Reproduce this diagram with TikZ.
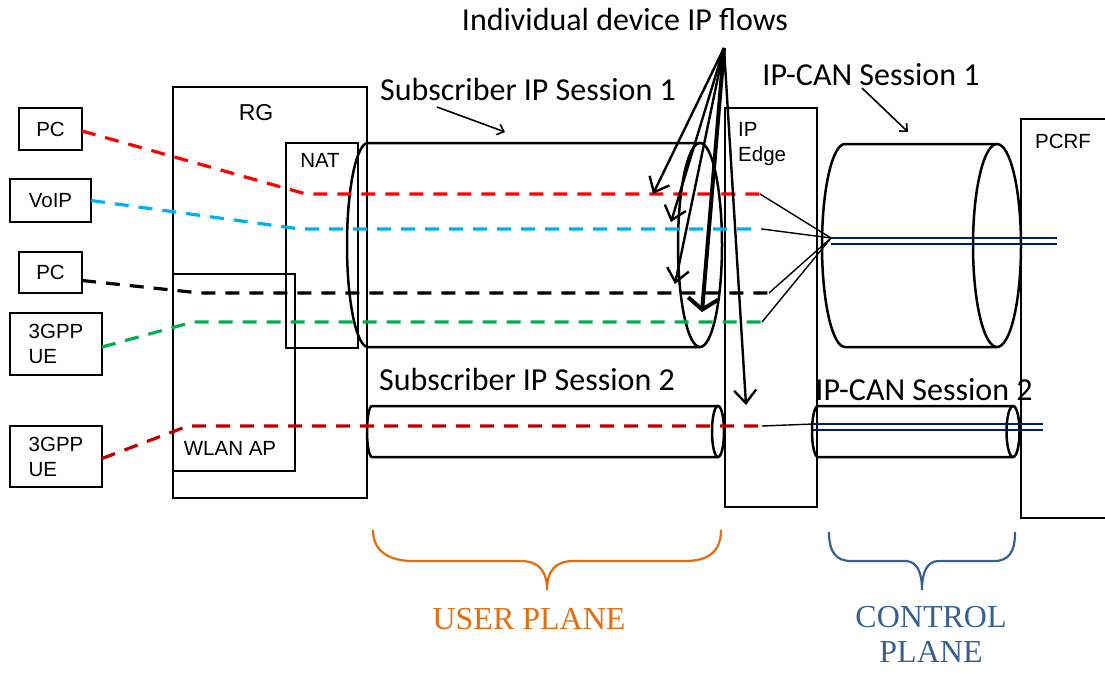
\documentclass[tikz,border=0pt]{standalone}
\usepackage{fontspec}
\setmainfont{Liberation Sans}
\newfontfamily\calfont{Carlito}
\newfontfamily\serfont{Liberation Serif}
\usetikzlibrary{arrows.meta}
\definecolor{flowred}{RGB}{255,0,0}
\definecolor{flowblue}{RGB}{0,176,240}
\definecolor{flowgreen}{RGB}{0,176,80}
\definecolor{flowdred}{RGB}{192,0,0}
\definecolor{navyline}{RGB}{0,32,96}
\definecolor{upor}{RGB}{228,108,10}
\definecolor{cpblue}{RGB}{55,96,146}
\begin{document}
\begin{tikzpicture}[x=1pt,y=-1pt,
  box/.style={draw, line width=2.5pt, inner sep=0pt, outer sep=0pt, anchor=north west, font=\fontsize{20.5}{25}\selectfont},
  lbl/.style={inner sep=0pt, font=\fontsize{20.5}{25}\selectfont},
  big/.style={inner sep=0pt, font=\calfont\fontsize{32}{36}\selectfont},
  plane/.style={inner sep=0pt, align=center, font=\serfont\fontsize{32}{35}\selectfont},
  cyl/.style={line width=2.5pt},
  flow/.style={line width=3.2pt, dash pattern=on 14pt off 10pt},
  thinlink/.style={line width=1.4pt},
  navy/.style={navyline, line width=2.6pt},
  barb/.style={line width=2.4pt, -{Straight Barb[length=13pt,width=22pt]}},
  thickbarb/.style={line width=4pt, -{Straight Barb[length=11pt,width=30pt]}},
  callout/.style={line width=1.6pt, -{Straight Barb[length=6pt,width=11pt]}},
  bracestyle/.style={line width=2.2pt}
]
\useasboundingbox (0,0) rectangle (1105,672);

% containers
\node[box, minimum width=194pt, minimum height=411pt] (rg) at (173,87) {};
\node[lbl] (rglbl) at (256,113) {\fontsize{23}{26}\selectfont RG};
\node[box, minimum width=72pt, minimum height=205pt] (nat) at (286,143) {};
\node[lbl] (natlbl) at (320,160) {NAT};
\node[box, minimum width=122pt, minimum height=197pt] (wlan) at (173,274) {};
\node[lbl] (wlanlbl) at (230,448) {WLAN AP};
\node[box, minimum width=92pt, minimum height=399pt] (edge) at (725,108) {};
\node[lbl, anchor=west, align=left] (edgelbl) at (738,144) {IP\\Edge};
\draw[line width=2.5pt] (1108,119) -- (1021,119) -- (1021,518) -- (1108,518);
\node[lbl] (pcrflbl) at (1063,141) {PCRF};

% devices
\node[box, minimum width=63pt, minimum height=42pt] (pc1) at (19,108) {PC};
\node[box, minimum width=81pt, minimum height=43pt] (voip) at (10,179) {VoIP};
\node[box, minimum width=63pt, minimum height=41pt] (pc2) at (19,252) {PC};
\node[box, minimum width=92pt, minimum height=62pt, align=left] (ue1) at (10,313) {3GPP\\UE};
\node[box, minimum width=92pt, minimum height=61pt, align=left] (ue2) at (10,426) {3GPP\\UE};

% subscriber IP session 1
\draw[cyl] (700,143) -- (368,143) arc[start angle=-90,end angle=-270,x radius=21,y radius=102] -- (700,347);
\draw[cyl] (700,245) ellipse[x radius=22,y radius=102];
% subscriber IP session 2
\draw[cyl] (718,406) -- (372,406) arc[start angle=-90,end angle=-270,x radius=5,y radius=25.5] -- (718,457);
\draw[cyl] (718,431.5) ellipse[x radius=6,y radius=25.5];
% IP-CAN session 1
\draw[cyl] (997,144) -- (845,144) arc[start angle=-90,end angle=-270,x radius=23,y radius=101.5] -- (997,347);
\draw[cyl] (997,245.5) ellipse[x radius=24,y radius=101.5];
% IP-CAN session 2
\draw[cyl] (1013,406) -- (818,406) arc[start angle=-90,end angle=-270,x radius=6,y radius=25.5] -- (1013,457);
\draw[cyl] (1013,431.5) ellipse[x radius=6.5,y radius=25.5];

% flow coordinates
\coordinate (rbend) at (306,194);  \coordinate (rend) at (760,194);
\coordinate (bbend) at (300,229);  \coordinate (bend) at (762,229);
\coordinate (kbend) at (200,293);  \coordinate (kend) at (769,293);
\coordinate (gbend) at (193,322);  \coordinate (gend) at (762,322);
\coordinate (dbend) at (188,426);  \coordinate (dend) at (762,426);
\coordinate (conv) at (831,238);
\coordinate (conv2) at (813,424);

% flows
\draw[flow, flowred] ([yshift=-2pt]pc1.east) -- (rbend) -- (rend);
\draw[flow, flowblue] (voip.east) -- (bbend) -- (bend);
\draw[flow, black] ([yshift=-8pt]pc2.east) -- (kbend) -- (kend);
\draw[flow, flowgreen] ([yshift=-3pt]ue1.east) -- (gbend) -- (gend);
\draw[flow, flowdred] ([yshift=-2pt]ue2.east) -- (dbend) -- (dend);

% links into IP-CAN
\draw[thinlink] (rend) -- (conv);
\draw[thinlink] (bend) -- (conv);
\draw[thinlink] (kend) -- (conv);
\draw[thinlink] (gend) -- (conv);
\draw[thinlink] (dend) -- (conv2);

% navy double lines
\draw[navy] (conv) -- (1057,238);
\draw[navy] (831,244) -- (1057,244);
\draw[navy] (conv2) -- (1043,424);
\draw[navy] (813,430) -- (1043,430);

% texts
\node[big] (flowslbl) at (625,20) {Individual device IP flows};
\node[big] (sub1lbl) at (528,90) {Subscriber IP Session 1};
\node[big] (sub2lbl) at (527,380) {Subscriber IP Session 2};
\node[big] (can1lbl) at (871,75) {IP-CAN Session 1};
\node[big] (can2lbl) at (924,390) {IP-CAN Session 2};

% callout arrows
\coordinate (apex) at (724,48);
\coordinate (t1) at (653,194);
\coordinate (t2) at (671,222);
\coordinate (t3) at (675,284);
\coordinate (t4) at (702,312);
\coordinate (t5) at (746,405);
\draw[barb] (apex) -- (t1);
\draw[barb] (apex) -- (t2);
\draw[barb] (apex) -- (t3);
\draw[thickbarb] (apex) -- (t4);
\draw[barb] (apex) -- (t5);
\coordinate (s1a) at (437,107); \coordinate (s1b) at (505,132);
\draw[callout] (s1a) -- (s1b);
\coordinate (c1a) at (862,88); \coordinate (c1b) at (908,132);
\draw[callout] (c1a) -- (c1b);

% braces
\draw[bracestyle, upor] (373,530) .. controls (373,552) and (390,561) .. (413,561) -- (520,561) .. controls (540,561) and (547,572) .. (547,590)
  .. controls (547,572) and (554,561) .. (574,561) -- (685,561) .. controls (708,561) and (721,552) .. (721,530);
\draw[bracestyle, cpblue] (829,532) .. controls (829,552) and (836,561) .. (851,561) -- (905,561) .. controls (917,561) and (922,572) .. (922,590)
  .. controls (922,572) and (927,561) .. (939,561) -- (994,561) .. controls (1009,561) and (1015,552) .. (1015,532);
\node[plane, text=upor] (uplbl) at (529,619) {USER PLANE};
\node[plane, text=cpblue, anchor=north] (cplbl) at (931,606) {CONTROL\\PLANE};
\end{tikzpicture}
\end{document}
